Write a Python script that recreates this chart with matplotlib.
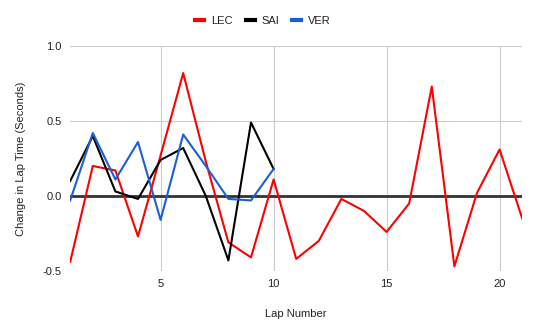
import matplotlib.pyplot as plt

plt.rcParams['font.family'] = ['Liberation Sans', 'DejaVu Sans']

# data
laps_lec = list(range(1, 22))
lec = [-0.44, 0.20, 0.17, -0.27, 0.27, 0.82, 0.23, -0.31, -0.41, 0.11,
       -0.42, -0.30, -0.02, -0.10, -0.24, -0.05, 0.73, -0.47, 0.02, 0.31, -0.15]
laps_short = list(range(1, 11))
sai = [0.10, 0.40, 0.03, -0.02, 0.24, 0.32, 0.00, -0.43, 0.49, 0.18]
ver = [-0.03, 0.42, 0.11, 0.36, -0.16, 0.41, 0.20, -0.02, -0.03, 0.18]

fig = plt.figure(figsize=(5.4, 3.34), dpi=100)
ax = fig.add_axes([0.13, 0.189, 0.837, 0.673])

ax.plot(laps_lec, lec, color='#ff0000', lw=1.5, label='LEC', zorder=3)
ax.plot(laps_short, sai, color='#000000', lw=1.5, label='SAI', zorder=3)
ax.plot(laps_short, ver, color='#1a5fd4', lw=1.5, label='VER', zorder=3)

ax.axhline(0, color='#333333', lw=2, zorder=2)

ax.set_xlim(1, 21)
ax.set_ylim(-0.5, 1.0)
ax.set_xticks([5, 10, 15, 20])
ax.set_yticks([-0.5, 0.0, 0.5, 1.0])
ax.set_yticklabels(['-0.5', '0.0', '0.5', '1.0'])
ax.grid(True, color='#cccccc', lw=0.8, zorder=0)
for s in ax.spines.values():
    s.set_visible(False)
ax.tick_params(length=0, labelsize=8, colors='#222222', pad=6)

ax.set_xlabel('Lap Number', fontsize=8, color='#222222', labelpad=14)
ax.set_ylabel('Change in Lap Time (Seconds)', fontsize=8, color='#222222', labelpad=12)

leg = fig.legend(loc='center', bbox_to_anchor=(0.487, 0.937), ncol=3, frameon=False,
                 fontsize=8, handlelength=0.8, handletextpad=0.6, columnspacing=1.2,
                 labelcolor='#222222')
for h in leg.get_lines():
    h.set_linewidth(3)

fig.savefig('out.png', dpi=100)
